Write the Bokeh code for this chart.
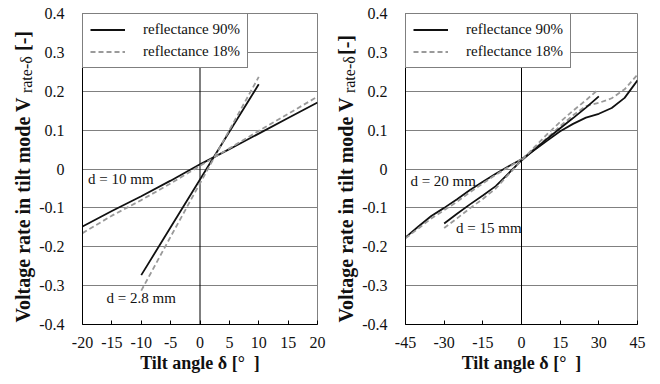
import math
from bokeh.plotting import figure
from bokeh.models import Range1d, FixedTicker, Label, Span, Legend, LegendItem
from bokeh.layouts import row
from bokeh.embed import file_html
from bokeh.resources import INLINE

# ---------------- data ----------------
y_ticks = [-0.4, -0.3, -0.2, -0.1, 0, 0.1, 0.2, 0.3, 0.4]
y_tick_labels = ["-0.4", "-0.3", "-0.2", "-0.1", "0", "0.1", "0.2", "0.3", "0.4"]

left_x_ticks = [-20, -15, -10, -5, 0, 5, 10, 15, 20]
left_x_tick_labels = ["-20", "-15", "-10", "-5", "0", "5", "10", "15", "20"]
right_x_ticks = [-45, -30, -15, 0, 15, 30, 45]
right_x_tick_labels = ["-45", "-30", "-15", "0", "15", "30", "45"]

legend_labels = ["reflectance 90%", "reflectance 18%"]
x_label = "Tilt angle \u03b4 [\u00b0\u00a0\u00a0]"
y_label_main = "Voltage rate in tilt mode V"
y_label_sub = "rate-\u03b4"
y_label_tail = "[-]"

# left panel: d = 10 mm and d = 2.8 mm
x_d10 = [-20, -15, -10, -5, 0, 5, 10, 15, 20]
r90_d10 = [-0.148, -0.108, -0.070, -0.030, 0.012, 0.051, 0.091, 0.131, 0.171]
r18_d10 = [-0.165, -0.120, -0.080, -0.037, 0.008, 0.053, 0.098, 0.142, 0.186]

x_d28 = [-10, -5, 0, 5, 10]
r90_d28 = [-0.273, -0.150, -0.027, 0.096, 0.218]
r18_d28 = [-0.313, -0.174, -0.037, 0.100, 0.237]

# right panel: d = 20 mm and d = 15 mm
x_d20 = [-45, -40, -35, -30, -25, -20, -15, -10, -5, 0, 5, 10, 15, 20, 25, 30, 35, 40, 45]
r90_d20 = [-0.176, -0.148, -0.121, -0.100, -0.078, -0.054, -0.033, -0.012, 0.007, 0.025,
           0.049, 0.073, 0.097, 0.116, 0.132, 0.142, 0.157, 0.183, 0.228]
r18_d20 = [-0.178, -0.153, -0.127, -0.106, -0.084, -0.060, -0.037, -0.015, 0.005, 0.025,
           0.052, 0.080, 0.110, 0.138, 0.162, 0.170, 0.182, 0.205, 0.243]

x_d15_r90 = [-30, -25, -20, -15, -10, -5, 0, 5, 10, 15, 20, 25, 30]
r90_d15 = [-0.140, -0.115, -0.091, -0.068, -0.044, -0.011, 0.022, 0.050, 0.078, 0.105, 0.131, 0.158, 0.187]
x_d15_r18 = [-30, -25, -20, -15, -10, -5, 0, 5, 10, 15, 20, 25, 29]
r18_d15 = [-0.152, -0.127, -0.101, -0.077, -0.050, -0.014, 0.022, 0.056, 0.090, 0.121, 0.150, 0.177, 0.200]

left_notes = [("d = 10 mm", -19.05, -0.026), ("d = 2.8 mm", -15.9, -0.332)]
right_notes = [("d = 20 mm", -43.1, -0.031), ("d = 15 mm", -25.4, -0.153)]

# ---------------- styling ----------------
SERIF = "Liberation Serif"
TXT = "#111111"
FIG_H = 384
BORDER_TOP = 13
BORDER_BOTTOM = 60
FRAME_H = FIG_H - BORDER_TOP - BORDER_BOTTOM
FRAME_BOTTOM = FIG_H - BORDER_BOTTOM
BLACK_LINE = dict(line_color="#111111", line_width=1.8)
GRAY_LINE = dict(line_color="#9a9a9a", line_width=1.8, line_dash="5 3")


def make_label_strip(width, baseline_x, tail_gap):
    """Narrow figure that only carries the rotated y-axis title (with subscript).
    Its frame spans the same vertical band as the panels' frames."""
    s = figure(width=width, height=FIG_H, x_range=Range1d(0, width), y_range=Range1d(0, FRAME_H),
               output_backend="svg", toolbar_location=None,
               x_axis_location=None, y_axis_location=None,
               min_border_left=0, min_border_right=0,
               min_border_top=BORDER_TOP, min_border_bottom=BORDER_BOTTOM)
    s.outline_line_color = None
    s.grid.visible = False
    s.background_fill_color = "white"
    s.border_fill_color = "white"
    main_fs, sub_fs, tail_fs = 20, 16, 20
    L1 = 11.36 * main_fs
    L2 = 2.33 * sub_fs
    L3 = 1.0 * tail_fs
    start = FRAME_BOTTOM - 1.0  # screen y where the title starts (bottom)
    gap = 3
    c1 = start - L1 / 2
    c2 = start - L1 - gap - L2 / 2
    c3 = start - L1 - gap - L2 - tail_gap - L3 / 2
    common = dict(angle=math.pi / 2, text_font=SERIF, text_color=TXT,
                  text_align="center", text_baseline="middle")
    s.add_layout(Label(x=baseline_x - 0.34 * main_fs, y=FRAME_BOTTOM - c1, text=y_label_main,
                       text_font_style="bold", text_font_size=f"{main_fs}px", **common))
    s.add_layout(Label(x=baseline_x + 2 - 0.34 * sub_fs, y=FRAME_BOTTOM - c2, text=y_label_sub,
                       text_font_size=f"{sub_fs}px", **common))
    s.add_layout(Label(x=baseline_x - 0.34 * tail_fs, y=FRAME_BOTTOM - c3, text=y_label_tail,
                       text_font_style="bold", text_font_size=f"{tail_fs}px", **common))
    return s


def make_panel(xr, xticks, xlabels, series, notes, width, b_left, b_right):
    xmin, xmax = xr
    p = figure(width=width, height=FIG_H, x_range=Range1d(xmin, xmax), y_range=Range1d(-0.4, 0.4),
               output_backend="svg", toolbar_location=None,
               min_border_left=b_left, min_border_right=b_right,
               min_border_top=BORDER_TOP, min_border_bottom=BORDER_BOTTOM)
    p.background_fill_color = "white"
    p.border_fill_color = "white"
    p.outline_line_color = "#808080"
    p.outline_line_width = 1

    p.xaxis.ticker = FixedTicker(ticks=xticks)
    p.xaxis.major_label_overrides = {t: l for t, l in zip(xticks, xlabels)}
    p.yaxis.ticker = FixedTicker(ticks=y_ticks)
    p.yaxis.major_label_overrides = {t: l for t, l in zip(y_ticks, y_tick_labels)}
    for ax in (p.xaxis, p.yaxis):
        ax.axis_line_color = "black"
        ax.axis_line_width = 1
        ax.major_label_text_font = SERIF
        ax.major_label_text_font_size = "16px"
        ax.major_label_text_color = TXT
        ax.major_label_standoff = 12
        ax.minor_tick_line_color = None
    p.xaxis.major_tick_in = 4
    p.xaxis.major_tick_out = 0
    p.xaxis.major_tick_line_color = "black"
    p.yaxis.major_tick_line_color = None

    p.xaxis.axis_label = x_label
    p.xaxis.axis_label_text_font = SERIF
    p.xaxis.axis_label_text_font_style = "bold"
    p.xaxis.axis_label_text_font_size = "18px"
    p.xaxis.axis_label_text_color = TXT
    p.xaxis.axis_label_standoff = 2

    p.xgrid.visible = False
    p.ygrid.grid_line_color = "#808080"
    p.ygrid.grid_line_width = 1

    p.add_layout(Span(location=0, dimension="height", line_color="black", line_width=1, level="underlay"))

    first90 = first18 = None
    for xs, ys, kind in series:
        style = BLACK_LINE if kind == 90 else GRAY_LINE
        r = p.line(xs, ys, **style)
        if kind == 90 and first90 is None:
            first90 = r
        if kind == 18 and first18 is None:
            first18 = r

    legend = Legend(items=[LegendItem(label=legend_labels[0], renderers=[first90]),
                           LegendItem(label=legend_labels[1], renderers=[first18])],
                    location="top_left", margin=0, padding=7, spacing=5,
                    glyph_width=35, glyph_height=17, label_height=17, label_standoff=18,
                    border_line_color="black", border_line_width=1,
                    background_fill_color="white", background_fill_alpha=1,
                    label_text_font=SERIF, label_text_font_size="15px", label_text_color=TXT)
    p.add_layout(legend)

    for txt, lx, ly in notes:
        p.add_layout(Label(x=lx, y=ly, text=txt, text_font=SERIF, text_font_size="15px",
                           text_color=TXT, text_align="left", text_baseline="middle"))
    return p


left_series = [
    (x_d10, r90_d10, 90), (x_d10, r18_d10, 18),
    (x_d28, r90_d28, 90), (x_d28, r18_d28, 18),
]
right_series = [
    (x_d20, r90_d20, 90), (x_d20, r18_d20, 18),
    (x_d15_r90, r90_d15, 90), (x_d15_r18, r18_d15, 18),
]

s1 = make_label_strip(36, 29, 5)
p1 = make_panel((-20, 20), left_x_ticks, left_x_tick_labels, left_series, left_notes, 294, 40, 13)
s2 = make_label_strip(29, 22, 1)
p2 = make_panel((-45, 45), right_x_ticks, right_x_tick_labels, right_series, right_notes, 301, 38, 23)

layout = row(s1, p1, s2, p2)
open("out.html", "w").write(file_html(layout, INLINE))
